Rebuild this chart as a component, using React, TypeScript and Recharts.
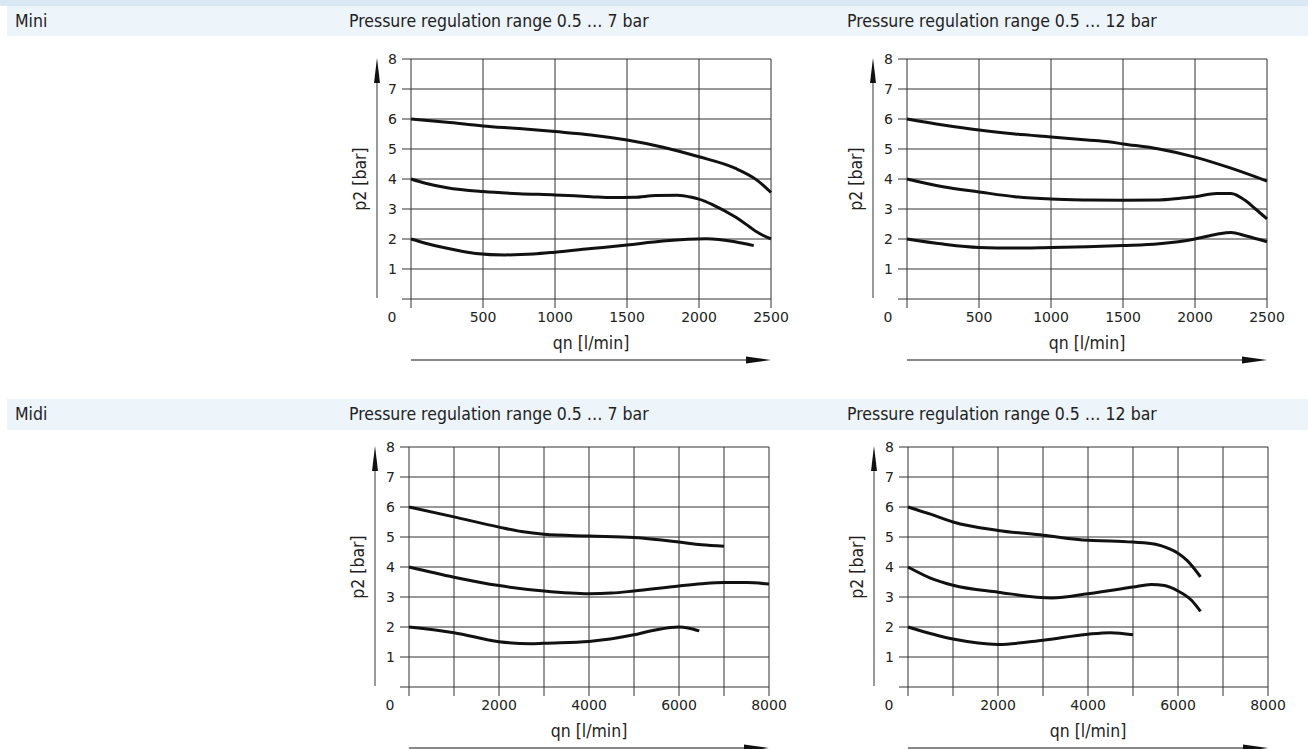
import { CartesianGrid, Line, LineChart, XAxis, YAxis } from "recharts";

type Pt = { q: number; p: number };

const pressureTicks = [0, 1, 2, 3, 4, 5, 6, 7, 8];
const miniFlowTicks = [0, 500, 1000, 1500, 2000, 2500];
const midiFlowTicks = [0, 1000, 2000, 3000, 4000, 5000, 6000, 7000, 8000];
const midiFlowLabels = [0, 2000, 4000, 6000, 8000];

const sizeLabels = ["Mini", "Midi"];
const rangeLabels = ["Pressure regulation range 0.5 … 7 bar", "Pressure regulation range 0.5 … 12 bar"];

// Mini, 0.5 … 7 bar
const mini7Set6: Pt[] = [
  { q: 0, p: 6.0 }, { q: 250, p: 5.89 }, { q: 500, p: 5.77 }, { q: 750, p: 5.68 },
  { q: 1000, p: 5.58 }, { q: 1250, p: 5.47 }, { q: 1500, p: 5.3 }, { q: 1750, p: 5.06 },
  { q: 2000, p: 4.74 }, { q: 2250, p: 4.36 }, { q: 2400, p: 3.97 }, { q: 2500, p: 3.55 },
];
const mini7Set4: Pt[] = [
  { q: 0, p: 4.0 }, { q: 100, p: 3.86 }, { q: 250, p: 3.71 }, { q: 500, p: 3.58 },
  { q: 750, p: 3.51 }, { q: 1000, p: 3.47 }, { q: 1250, p: 3.41 }, { q: 1400, p: 3.38 },
  { q: 1550, p: 3.39 }, { q: 1700, p: 3.45 }, { q: 1850, p: 3.46 }, { q: 1950, p: 3.39 },
  { q: 2000, p: 3.33 }, { q: 2100, p: 3.13 }, { q: 2250, p: 2.74 }, { q: 2350, p: 2.41 },
  { q: 2400, p: 2.24 }, { q: 2500, p: 2.0 },
];
const mini7Set2: Pt[] = [
  { q: 0, p: 2.0 }, { q: 100, p: 1.86 }, { q: 250, p: 1.69 }, { q: 450, p: 1.52 },
  { q: 650, p: 1.47 }, { q: 850, p: 1.5 }, { q: 1000, p: 1.56 }, { q: 1250, p: 1.68 },
  { q: 1500, p: 1.8 }, { q: 1750, p: 1.93 }, { q: 2050, p: 2.01 }, { q: 2250, p: 1.91 },
  { q: 2380, p: 1.78 },
];

// Mini, 0.5 … 12 bar
const mini12Set6: Pt[] = [
  { q: 0, p: 6.0 }, { q: 250, p: 5.8 }, { q: 500, p: 5.63 }, { q: 750, p: 5.5 },
  { q: 1000, p: 5.4 }, { q: 1250, p: 5.3 }, { q: 1400, p: 5.24 }, { q: 1500, p: 5.17 },
  { q: 1750, p: 5.0 }, { q: 2000, p: 4.73 }, { q: 2250, p: 4.36 }, { q: 2500, p: 3.93 },
];
const mini12Set4: Pt[] = [
  { q: 0, p: 4.0 }, { q: 250, p: 3.74 }, { q: 500, p: 3.57 }, { q: 750, p: 3.41 },
  { q: 1000, p: 3.33 }, { q: 1250, p: 3.3 }, { q: 1500, p: 3.29 }, { q: 1750, p: 3.3 },
  { q: 1900, p: 3.36 }, { q: 2000, p: 3.41 }, { q: 2150, p: 3.52 }, { q: 2250, p: 3.52 },
  { q: 2350, p: 3.28 }, { q: 2420, p: 3.0 }, { q: 2500, p: 2.67 },
];
const mini12Set2: Pt[] = [
  { q: 0, p: 2.0 }, { q: 250, p: 1.83 }, { q: 500, p: 1.72 }, { q: 750, p: 1.7 },
  { q: 1000, p: 1.72 }, { q: 1250, p: 1.74 }, { q: 1500, p: 1.78 }, { q: 1750, p: 1.84 },
  { q: 2000, p: 2.0 }, { q: 2150, p: 2.16 }, { q: 2250, p: 2.22 }, { q: 2350, p: 2.11 },
  { q: 2500, p: 1.91 },
];

// Midi, 0.5 … 7 bar
const midi7Set6: Pt[] = [
  { q: 0, p: 6.0 }, { q: 1000, p: 5.67 }, { q: 2000, p: 5.33 }, { q: 2500, p: 5.18 },
  { q: 3000, p: 5.09 }, { q: 4000, p: 5.03 }, { q: 5000, p: 4.98 }, { q: 6000, p: 4.83 },
  { q: 6500, p: 4.74 }, { q: 7000, p: 4.69 },
];
const midi7Set4: Pt[] = [
  { q: 0, p: 4.0 }, { q: 1000, p: 3.66 }, { q: 2000, p: 3.38 }, { q: 3000, p: 3.2 },
  { q: 4000, p: 3.11 }, { q: 4500, p: 3.13 }, { q: 5000, p: 3.2 }, { q: 6000, p: 3.37 },
  { q: 6500, p: 3.44 }, { q: 7000, p: 3.48 }, { q: 7500, p: 3.48 }, { q: 8000, p: 3.43 },
];
const midi7Set2: Pt[] = [
  { q: 0, p: 2.0 }, { q: 1000, p: 1.81 }, { q: 2000, p: 1.51 }, { q: 2700, p: 1.44 },
  { q: 3000, p: 1.46 }, { q: 4000, p: 1.52 }, { q: 5000, p: 1.74 }, { q: 5500, p: 1.91 },
  { q: 6000, p: 2.0 }, { q: 6200, p: 1.97 }, { q: 6450, p: 1.87 },
];

// Midi, 0.5 … 12 bar
const midi12Set6: Pt[] = [
  { q: 0, p: 6.0 }, { q: 500, p: 5.76 }, { q: 1000, p: 5.5 }, { q: 2000, p: 5.22 },
  { q: 3000, p: 5.06 }, { q: 4000, p: 4.89 }, { q: 4500, p: 4.87 }, { q: 5000, p: 4.83 },
  { q: 5500, p: 4.76 }, { q: 5800, p: 4.61 }, { q: 6000, p: 4.46 }, { q: 6200, p: 4.22 },
  { q: 6500, p: 3.67 },
];
const midi12Set4: Pt[] = [
  { q: 0, p: 4.0 }, { q: 500, p: 3.63 }, { q: 1000, p: 3.39 }, { q: 2000, p: 3.16 },
  { q: 3200, p: 2.97 }, { q: 4000, p: 3.11 }, { q: 5000, p: 3.33 }, { q: 5400, p: 3.42 },
  { q: 5700, p: 3.38 }, { q: 6000, p: 3.2 }, { q: 6300, p: 2.89 }, { q: 6500, p: 2.52 },
];
const midi12Set2: Pt[] = [
  { q: 0, p: 2.0 }, { q: 1000, p: 1.6 }, { q: 2000, p: 1.42 }, { q: 3000, p: 1.56 },
  { q: 4000, p: 1.76 }, { q: 4500, p: 1.81 }, { q: 5000, p: 1.74 },
];

const PLOT_W = 360;
const PLOT_H = 240;
const LEFT = 60;
const TOP = 15;
const RIGHT = 30;
const BOTTOM = 75;
const CHART_W = LEFT + PLOT_W + RIGHT;
const CHART_H = TOP + PLOT_H + BOTTOM;

const LABEL_FONT = "'DejaVu Sans Condensed', 'DejaVu Sans', sans-serif";
const TICK_FONT = "'DejaVu Sans', sans-serif";
const GRID = "#333";

function FlowTick(props: any) {
  const { x, y, payload, labels } = props;
  const v = payload.value as number;
  if (!labels.includes(v)) return null;
  // the 0 label sits under the y labels, left of the axis
  const dx = v === 0 ? -19 : 0;
  return (
    <text x={x + dx} y={y} dy="0.71em" textAnchor="middle" fontSize={14} fontFamily={TICK_FONT} fill="#222">
      {v}
    </text>
  );
}

function PressureChart(props: {
  left: number;
  top: number;
  maxFlow: number;
  flowTicks: number[];
  flowLabels: number[];
  curves: Pt[][];
}) {
  const { left, top, maxFlow, flowTicks, flowLabels, curves } = props;
  const arrowY = TOP + PLOT_H + 61;
  return (
    <div style={{ position: "absolute", left: left - LEFT, top: top - TOP, width: CHART_W, height: CHART_H }}>
      <LineChart width={CHART_W} height={CHART_H} margin={{ top: TOP, right: RIGHT, left: 0, bottom: 0 }}>
        <CartesianGrid stroke={GRID} />
        <XAxis
          dataKey="q"
          type="number"
          domain={[0, maxFlow]}
          ticks={flowTicks}
          interval={0}
          height={BOTTOM}
          axisLine={false}
          tickLine={{ stroke: GRID }}
          tickSize={9}
          tickMargin={4}
          tick={<FlowTick labels={flowLabels} />}
        />
        <YAxis
          type="number"
          domain={[0, 8]}
          ticks={pressureTicks}
          interval={0}
          width={LEFT}
          axisLine={false}
          tickLine={{ stroke: GRID }}
          tickSize={9}
          tickMargin={5}
          tickFormatter={(v: number) => (v === 0 ? "" : String(v))}
          tick={{ fontSize: 14, fontFamily: TICK_FONT, fill: "#222" }}
        />
        {curves.map((c, i) => (
          <Line
            key={i}
            data={c}
            dataKey="p"
            type="monotone"
            stroke="#111"
            strokeWidth={3}
            dot={false}
            isAnimationActive={false}
          />
        ))}
      </LineChart>
      <svg
        width={CHART_W}
        height={CHART_H}
        style={{ position: "absolute", left: 0, top: 0, pointerEvents: "none" }}
        fontFamily={LABEL_FONT}
        fontSize={17.5}
        fill="#222"
      >
        <line x1={26} y1={TOP + PLOT_H - 1} x2={26} y2={TOP + 10} stroke="#777" strokeWidth={1.5} />
        <polygon points={`26,${TOP - 1} 23,${TOP + 24} 29,${TOP + 24}`} fill="#111" />
        <text
          transform={`translate(9,${TOP + PLOT_H / 2}) rotate(-90)`}
          textAnchor="middle"
          dominantBaseline="central"
        >
          p2 [bar]
        </text>
        <text x={LEFT + PLOT_W / 2} y={TOP + PLOT_H + 44} textAnchor="middle" dominantBaseline="central">
          qn [l/min]
        </text>
        <line x1={LEFT} y1={arrowY} x2={LEFT + PLOT_W - 20} y2={arrowY} stroke="#888" strokeWidth={2} />
        <polygon
          points={`${LEFT + PLOT_W},${arrowY} ${LEFT + PLOT_W - 25},${arrowY - 3.5} ${LEFT + PLOT_W - 25},${arrowY + 3.5}`}
          fill="#111"
        />
      </svg>
    </div>
  );
}

function HeaderRow({ top, height, size }: { top: number; height: number; size: string }) {
  return (
    <div
      style={{
        position: "absolute",
        left: 7,
        top,
        width: 1301,
        height,
        background: "#edf4fa",
        lineHeight: `${height}px`,
        fontSize: 17.5,
        color: "#222",
      }}
    >
      <span style={{ position: "absolute", left: 8 }}>{size}</span>
      <span style={{ position: "absolute", left: 342 }}>{rangeLabels[0]}</span>
      <span style={{ position: "absolute", left: 840 }}>{rangeLabels[1]}</span>
    </div>
  );
}

export default function App() {
  return (
    <div
      style={{
        position: "relative",
        width: 1308,
        height: 749,
        overflow: "hidden",
        background: "#fff",
        fontFamily: LABEL_FONT,
      }}
    >
      <style>{"body{margin:0}"}</style>
      <div style={{ position: "absolute", left: 0, top: 0, width: 1308, height: 6, background: "#d9e8f4" }} />
      <HeaderRow top={6} height={30} size={sizeLabels[0]} />
      <HeaderRow top={399} height={31} size={sizeLabels[1]} />

      <PressureChart
        left={411}
        top={59}
        maxFlow={2500}
        flowTicks={miniFlowTicks}
        flowLabels={miniFlowTicks}
        curves={[mini7Set6, mini7Set4, mini7Set2]}
      />
      <PressureChart
        left={907}
        top={59}
        maxFlow={2500}
        flowTicks={miniFlowTicks}
        flowLabels={miniFlowTicks}
        curves={[mini12Set6, mini12Set4, mini12Set2]}
      />
      <PressureChart
        left={409}
        top={447}
        maxFlow={8000}
        flowTicks={midiFlowTicks}
        flowLabels={midiFlowLabels}
        curves={[midi7Set6, midi7Set4, midi7Set2]}
      />
      <PressureChart
        left={908}
        top={447}
        maxFlow={8000}
        flowTicks={midiFlowTicks}
        flowLabels={midiFlowLabels}
        curves={[midi12Set6, midi12Set4, midi12Set2]}
      />
    </div>
  );
}
